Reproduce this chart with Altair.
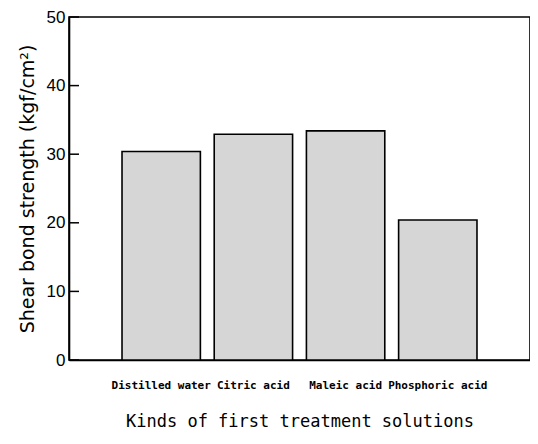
import altair as alt
import pandas as pd

categories = ["Distilled water", "Citric acid", "Maleic acid", "Phosphoric acid"]
values = [30.4, 32.9, 33.4, 20.4]
y_ticks = [0, 10, 20, 30, 40, 50]

df = pd.DataFrame({"solution": categories, "strength": values})
ticks_df = pd.DataFrame({"t": y_ticks})

y_scale = alt.Scale(domain=[0, 50], nice=False)

bars = alt.Chart(df).mark_bar(
    fill="#d6d6d6", stroke="black", strokeWidth=1.6
).encode(
    x=alt.X("solution:N", sort=categories,
            scale=alt.Scale(paddingInner=0.15, paddingOuter=0.575),
            axis=alt.Axis(title="Kinds of first treatment solutions", labelAngle=0,
                          ticks=False, domain=True, domainColor="black", domainWidth=1.6,
                          labelFont="DejaVu Sans Mono", labelFontWeight="bold", labelFontSize=11,
                          labelColor="black", labelPadding=19,
                          titleFont="DejaVu Sans Mono", titleFontSize=17, titleFontWeight="normal",
                          titleColor="black", titlePadding=23)),
    y=alt.Y("strength:Q", scale=y_scale,
            axis=alt.Axis(title="Shear bond strength (kgf/cm²)", values=y_ticks,
                          ticks=False, tickSize=0, grid=False, domain=True, domainColor="black",
                          domainWidth=1.6, labelFont="Liberation Sans", labelFontSize=17,
                          labelColor="black", labelPadding=4,
                          titleFont="DejaVu Sans", titleFontSize=19, titleFontWeight="normal",
                          titleColor="black", titlePadding=9)),
)

tick_marks = alt.Chart(ticks_df).mark_rule(color="black", strokeWidth=1.5).encode(
    y=alt.Y("t:Q", scale=y_scale),
    x=alt.value(0),
    x2=alt.value(10),
)

chart = alt.layer(bars, tick_marks).properties(
    width=461, height=343,
    autosize=alt.AutoSizeParams(type="none"),
    padding={"left": 61, "top": 9, "right": 0, "bottom": 75},
).configure(background="white").configure_view(stroke="black", strokeWidth=1.6)

chart.save("out.html", embed_options={"renderer": "svg", "actions": False})
